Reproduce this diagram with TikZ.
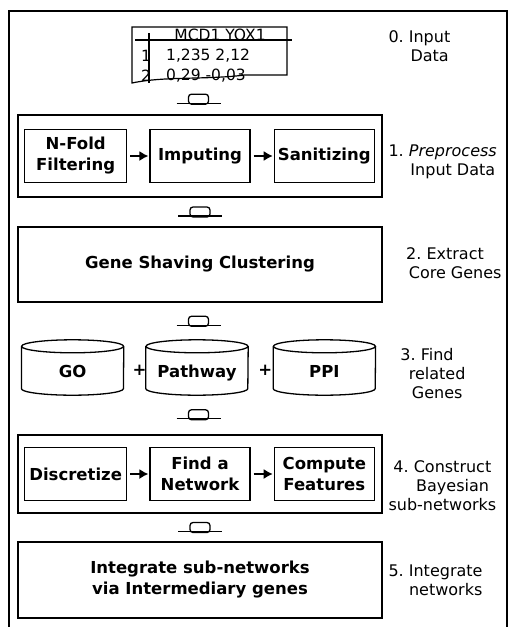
\documentclass[tikz,border=0pt]{standalone}
\usepackage{fontspec}
\setmainfont{DejaVu Sans}
\usetikzlibrary{positioning, calc, arrows.meta}

\newcommand{\taskfont}{\fontsize{16.5}{21}\selectfont\bfseries}
\newcommand{\notefont}{\fontsize{16}{19}\selectfont}
\newcommand{\cellfont}{\fontsize{15.5}{17}\selectfont}

\tikzset{
	stage/.style = {draw, line width = 1.4pt, minimum width = 364pt, inner sep = 0pt, align = center, font = \taskfont},
	task/.style = {draw, line width = 1.3pt, minimum width = 100pt, minimum height = 53pt, inner sep = 1pt, align = center, font = \taskfont},
	db/.style = {minimum width = 102pt, minimum height = 55pt, inner sep = 0pt, text height = 24pt, text depth = 4pt, font = \taskfont},
	note/.style = {anchor = west, align = center, font = \notefont},
	cell/.style = {inner sep = 0pt, font = \cellfont},
	pipe/.pic = {
		\draw [line width = 1.3pt] (-22, 4) -- (22, 4);
		\draw [line width = 1.3pt, rounded corners = 3pt] (-10, 5) rectangle (10, -5);
	}
}

\begin{document}
\begin{tikzpicture}[> = {Latex[length = 9pt, width = 10pt]}, x = 1pt, y = -1pt]

	\useasboundingbox (0, 0) rectangle (508, 627);

	% Outer frame
	
	\draw [line width = 1.5pt] (9, 627) -- (9, 11) -- (507, 11) -- (507, 627);
	
	% 0. Input data
	
	\node [cell] (head) at (220, 35) {MCD1 YOX1};
	\node [cell] (num1) at (146, 56) {1};
	\node [cell] (num2) at (146, 76) {2};
	\node [cell, anchor = west] (row1) at (166, 56) {1,235 2,12};
	\node [cell, anchor = west] (row2) at (166, 76) {0,29 -0,03};
	
	\draw [line width = 1.2pt] (245, 75) -- (287, 75) -- (287, 27) -- (132, 27) -- (132, 83) .. controls (165, 76) and (205, 80) .. (245, 75);
	\draw [line width = 1.2pt] (135, 40) -- (292, 40);
	\draw [line width = 1.2pt] (149, 33) -- (149, 83);
	
	\coordinate (input) at (197, 84);
	
	\node [note] (n0) at (385, 46) {0.~Input\\\phantom{0.~}Data};
	
	% 1. Preprocess
	
	\node [stage, minimum height = 82pt] (s1) at (200, 156) {};
	\node [task] (imput) at (s1) {Imputing};
	\node [task, minimum width = 102pt, left = 22pt of imput] (nfold) {N-Fold\\Filtering};
	\node [task, right = 23pt of imput] (sanit) {Sanitizing};
	
	\draw [->, line width = 1.3pt, shorten <= 3pt, shorten >= 1pt] (nfold) -- (imput);
	\draw [->, line width = 1.3pt, shorten <= 3pt, shorten >= 1pt] (imput) -- (sanit);
	
	\node [note] (n1) at (385, 162) {1.~\textit{Preprocess}\\\phantom{1.~}Input Data};
	
	% 2. Gene shaving
	
	\node [stage, minimum height = 75pt] (s2) at (200, 264.5) {Gene Shaving Clustering};
	
	\node [note] (n2) at (385, 263) {2.~Extract\\\phantom{2.~}Core Genes};
	
	% 3. Databases
	
	\node [db] (path) at (197, 367.5) {Pathway};
	\node [db, left = 22pt of path] (go) {GO};
	\node [db, right = 25pt of path] (ppi) {PPI};
	
	\foreach \d in {go, path, ppi} {
		\draw [line width = 1.3pt]
			([yshift = -6.5pt]\d.north) ellipse [x radius = 51pt, y radius = 6.5pt]
			([yshift = -6.5pt]\d.north west) -- ([yshift = 6.5pt]\d.south west)
			arc [start angle = 180, end angle = 360, x radius = 51pt, y radius = 6.5pt]
			-- ([yshift = -6.5pt]\d.north east);
	}
	
	\node [inner sep = 0pt, font = \taskfont] (plus1) at ($(go.east)!0.72!(path.west) + (0, 3)$) {+};
	\node [inner sep = 0pt, font = \taskfont] (plus2) at ($(path.east)!0.68!(ppi.west) + (0, 3)$) {+};
	
	\node [note] (n3) at (385, 374) {3.~Find\\\phantom{3.~}related\\\phantom{3.~}Genes};
	
	% 4. Bayesian sub-networks
	
	\node [stage, minimum height = 78pt] (s4) at (200, 474) {};
	\node [task] (find) at (s4) {Find a\\Network};
	\node [task, minimum width = 102pt, left = 22pt of find] (discr) {Discretize};
	\node [task, right = 23pt of find] (comp) {Compute\\Features};
	
	\draw [->, line width = 1.3pt, shorten <= 3pt, shorten >= 1pt] (discr) -- (find);
	\draw [->, line width = 1.3pt, shorten <= 3pt, shorten >= 1pt] (find) -- (comp);
	
	\node [note] (n4) at (385, 486) {4.~Construct\\\phantom{4.~}Bayesian\\sub-networks};
	
	% 5. Integration
	
	\node [stage, minimum height = 76pt] (s5) at (200, 580) {Integrate sub-networks\\via Intermediary genes};
	
	\node [note] (n5) at (385, 580) {5.~Integrate\\\phantom{5.~}networks};
	
	% Links between the stages
	
	\pic at ($(input)!0.5!(s1.north)$) {pipe};
	\pic at ($(s1.south)!0.5!(s2.north)$) {pipe};
	\pic at ($(s2.south)!0.5!(path.north)$) {pipe};
	\pic at ($(path.south)!0.5!(s4.north)$) {pipe};
	\pic at ($(s4.south)!0.5!(s5.north)$) {pipe};

\end{tikzpicture}
\end{document}
